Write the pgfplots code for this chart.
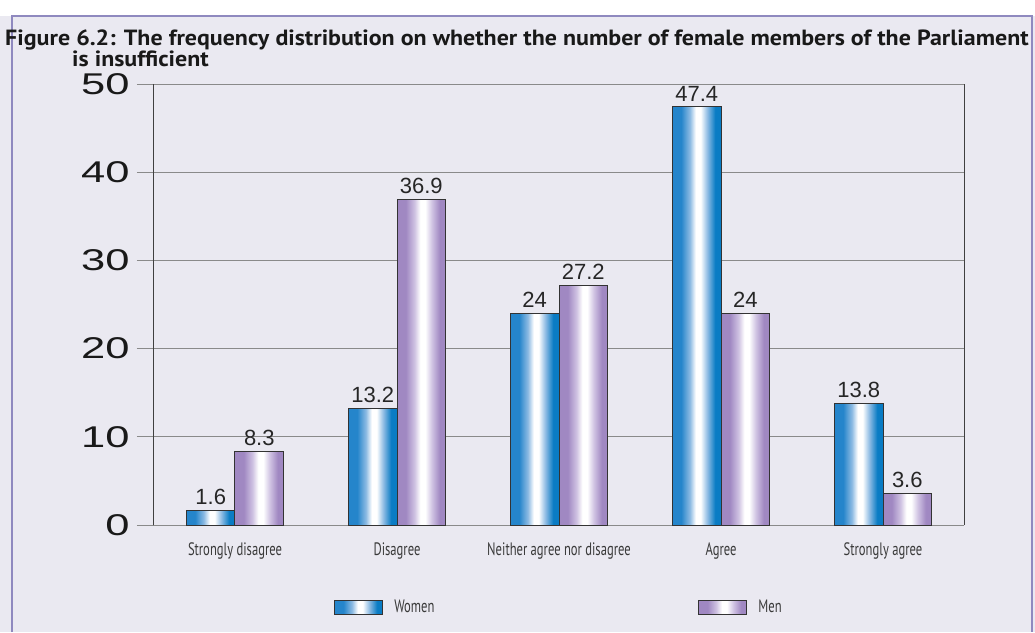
\documentclass[border=0pt]{standalone}
\usepackage{pgfplots}
\pgfplotsset{compat=1.18}
\usepackage{fontspec}
\setmainfont{Liberation Sans}
\newfontfamily\tickfont{Liberation Sans}[FakeStretch=1.45]
\newfontfamily\condfont{PT Sans}[FakeStretch=0.7]
\newfontfamily\titlefont{PT Sans}[FakeStretch=1.09]
\definecolor{bg}{HTML}{EAE9F1}
\definecolor{framec}{HTML}{8F89BF}
\definecolor{gridgray}{HTML}{8A8A8A}
\definecolor{wblue}{HTML}{0A7CC4}
\definecolor{wblueL}{HTML}{2585CB}
\definecolor{wblueM}{HTML}{8DBBE3}
\definecolor{mpurple}{HTML}{A088C2}
\definecolor{mpurpleM}{HTML}{CFC2E2}
\definecolor{txt}{HTML}{3A3A3A}

% bar fills: dark edges, white stripe near the middle
\pgfdeclarehorizontalshading{womenshade}{100bp}{
  color(0bp)=(wblueL); color(25bp)=(wblueL); color(34bp)=(wblueL); color(43bp)=(wblueM);
  color(49bp)=(white); color(54bp)=(white); color(61bp)=(wblueM);
  color(69bp)=(wblue); color(75bp)=(wblue); color(100bp)=(wblue)}
\pgfdeclarehorizontalshading{menshade}{100bp}{
  color(0bp)=(mpurple); color(25bp)=(mpurple); color(34bp)=(mpurple); color(43bp)=(mpurpleM);
  color(49bp)=(white); color(54bp)=(white); color(61bp)=(mpurpleM);
  color(69bp)=(mpurple); color(75bp)=(mpurple); color(100bp)=(mpurple)}

\pgfplotstableread{
x women men
0 1.6 8.3
1 13.2 36.9
2 24 27.2
3 47.4 24
4 13.8 3.6
}\datatable

\tikzset{
  womenbar/.style={draw=black!80, line width=1pt, shading=womenshade},
  menbar/.style={draw=black!80, line width=1pt, shading=menshade},
}

\begin{document}
\begin{tikzpicture}
% page background and frame (1 px = 1 pt, origin at the axis' lower left corner)
\fill[bg] (-154pt,-107pt) rectangle (881pt,509pt);
\fill[white] (-154pt,509pt) rectangle (881pt,525pt);
\draw[framec, line width=1.5pt] (-142pt,-107pt) -- (-142pt,509pt) -- (878pt,509pt) -- (878pt,-107pt);
\node[anchor=base west, inner sep=0pt, text=black!90,
      font=\titlefont\bfseries\fontsize{22}{26}\selectfont] at (-149pt,479pt)
  {Figure 6.2: The frequency distribution on whether the number of female members of the Parliament};
\node[anchor=base west, inner sep=0pt, text=black!90,
      font=\titlefont\bfseries\fontsize{22}{26}\selectfont] at (-82pt,458pt)
  {is insufficient};

\begin{axis}[
    at={(0pt,0pt)}, anchor=south west,
    scale only axis, width=810pt, height=441pt,
    bar width=0.3,
    xmin=-0.5, xmax=4.5, ymin=0, ymax=50,
    ytick={0,10,...,50},
    xtick={0,...,4},
    xticklabels={Strongly disagree, Disagree, Neither agree nor disagree, Agree, Strongly agree},
    minor xtick={0.5,1.5,2.5,3.5},
    xtick style={draw=none},
    ytick style={gridgray, line width=0.8pt},
    minor x tick style={black!80, line width=0.8pt},
    major tick length=17pt, minor tick length=9pt,
    tick align=outside, ytick pos=left, xtick pos=bottom,
    ymajorgrids, grid style={gridgray, line width=0.8pt},
    separate axis lines,
    x axis line style={gridgray, line width=0.8pt},
    y axis line style={black!75, line width=1pt},
    /pgf/number format/assume math mode=true,
    yticklabel style={font=\tickfont\fontsize{30}{30}\selectfont, text=black!90, xshift=-4pt},
    xticklabel style={font=\condfont\fontsize{18}{20}\selectfont, text=txt, yshift=3pt},
    nodes near coords,
    nodes near coords style={font=\fontsize{22}{24}\selectfont, text=black!85, yshift=2pt},
    legend style={at={(0.5,-0.186)}, anchor=center, draw=none, fill=none,
        font=\condfont\fontsize{18}{20}\selectfont, text=txt,
        /tikz/every odd column/.append style={column sep=9pt},
        /tikz/every even column/.append style={column sep=262pt}},
    legend columns=2,
]
\addlegendimage{legend image code/.code={\draw[womenbar] (0pt,-7pt) rectangle (48pt,7pt);}}
\addlegendentry{Women}
\addlegendimage{legend image code/.code={\draw[menbar] (0pt,-7pt) rectangle (48pt,7pt);}}
\addlegendentry{Men}
% one plot per bar so that each bar gets its own shading
\pgfplotsinvokeforeach{0,...,4}{
  \addplot[ybar, bar shift=-0.15, womenbar, forget plot,
      every node near coord/.append style={xshift=-24.3pt},
      x filter/.expression={abs(x-#1)<0.1 ? x : nan}]
      table[x=x, y=women] {\datatable};
  \addplot[ybar, bar shift=0.15, menbar, forget plot,
      every node near coord/.append style={xshift=24.3pt},
      x filter/.expression={abs(x-#1)<0.1 ? x : nan}]
      table[x=x, y=men] {\datatable};
}
\draw[black!75, line width=1pt] (axis description cs:0,0) -- ++(0pt,-15pt);
\end{axis}
\end{tikzpicture}
\end{document}
